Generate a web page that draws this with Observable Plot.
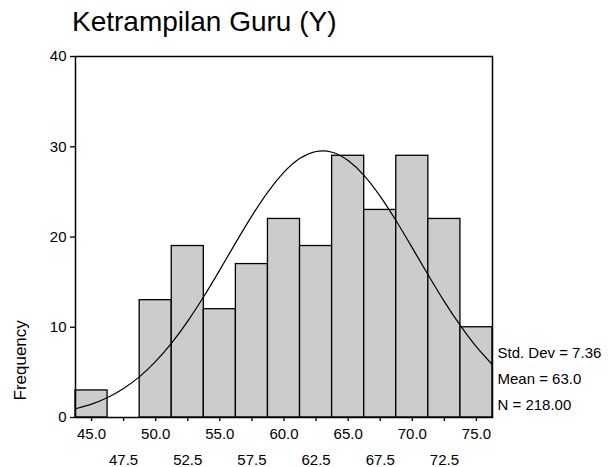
<!DOCTYPE html>
<html>
<head>
<meta charset="utf-8">
<script src="https://cdn.jsdelivr.net/npm/d3@7"></script>
<script src="https://cdn.jsdelivr.net/npm/@observablehq/plot@0.6"></script>
<style>
  html, body { margin: 0; padding: 0; background: white; }
  #wrap { width: 608px; height: 467px; position: relative; background: white; }
  #title { position: relative; height: 45px; font-family: "Liberation Sans", Arial, sans-serif; }
  #title span { position: absolute; left: 72px; top: 6px; font-size: 28px; line-height: 32px; color: #000; white-space: nowrap; }
  svg { display: block; }
</style>
</head>
<body>
<div id="wrap">
  <div id="title"><span></span></div>
  <div id="chart"></div>
</div>
<script>
const titleText = "Ketrampilan Guru (Y)";
const binCenters = [45.0, 47.5, 50.0, 52.5, 55.0, 57.5, 60.0, 62.5, 65.0, 67.5, 70.0, 72.5, 75.0];
const frequencies = [3, 0, 13, 19, 12, 17, 22, 19, 29, 23, 29, 22, 10];
const binWidth = 2.5;
const yTicks = [0, 10, 20, 30, 40];
const xTicksRow1 = [45.0, 50.0, 55.0, 60.0, 65.0, 70.0, 75.0];
const xTicksRow2 = [47.5, 52.5, 57.5, 62.5, 67.5, 72.5];
const statsLines = ["Std. Dev = 7.36", "Mean = 63.0", "N = 218.00"];
const yLabel = "Frequency";
// normal curve
const curveX = [43.75, 45.0, 46.25, 47.5, 48.75, 50.0, 51.25, 52.5, 53.75, 55.0, 56.25, 57.5, 58.75, 60.0, 61.25, 62.5, 63.75, 65.0, 66.25, 67.5, 68.75, 70.0, 71.25, 72.5, 73.75, 75.0, 76.25];
const curveY = [0.97, 1.48, 2.22, 3.22, 4.53, 6.21, 8.26, 10.68, 13.41, 16.36, 19.40, 22.34, 25.00, 27.18, 28.72, 29.47, 29.39, 28.47, 26.80, 24.50, 21.77, 18.79, 15.76, 12.84, 10.17, 7.82, 5.84];

document.querySelector("#title span").textContent = titleText;

const bars = binCenters.map((c, i) => ({x1: c - binWidth / 2, x2: c + binWidth / 2, count: frequencies[i]}))
  .filter(d => d.count > 0);
const curve = curveX.map((x, i) => ({x, y: curveY[i]}));
const allTicks = [...xTicksRow1, ...xTicksRow2];
const fmt = d => d.toFixed(1);

const plot = Plot.plot({
  width: 608,
  height: 422,
  marginLeft: 75,
  marginRight: 116,
  marginTop: 11,
  marginBottom: 50,
  style: {fontFamily: "'Liberation Sans', Arial, sans-serif", fontSize: "15px", color: "black", background: "white", overflow: "visible"},
  x: {domain: [43.75, 76.25]},
  y: {domain: [0, 40]},
  marks: [
    Plot.rectY(bars, {x1: "x1", x2: "x2", y: "count", fill: "url(#hatch)", stroke: "black", strokeWidth: 1.3}),
    Plot.line(curve, {x: "x", y: "y", curve: "natural", stroke: "black", strokeWidth: 1.2}),
    Plot.frame({stroke: "black", strokeWidth: 1.5}),
    Plot.axisY({ticks: yTicks, tickSize: 5, tickPadding: 4, label: null, fontSize: 15, strokeWidth: 1.3}),
    Plot.axisX({ticks: allTicks, tickSize: 4, tickFormat: () => "", label: null, strokeWidth: 1.3}),
    Plot.axisX({ticks: xTicksRow1, tickSize: 0, tickPadding: 11, tickFormat: fmt, label: null, fontSize: 15}),
    Plot.axisX({ticks: xTicksRow2, tickSize: 0, tickPadding: 37, tickFormat: fmt, label: null, fontSize: 15}),
    Plot.text([yLabel], {frameAnchor: "bottom-left", rotate: -90, textAnchor: "start", dx: -50, dy: -17, fontSize: 17}),
    Plot.text([statsLines.join("\n")], {frameAnchor: "bottom-right", textAnchor: "start", lineAnchor: "bottom", dx: 5, dy: -8, lineHeight: 26 / 15, fontSize: 15})
  ]
});

// fine diagonal texture used by SPSS bar fills
const ns = "http://www.w3.org/2000/svg";
const defs = document.createElementNS(ns, "defs");
defs.innerHTML = `<pattern id="hatch" patternUnits="userSpaceOnUse" width="4" height="4">
  <rect width="4" height="4" fill="#cacaca"></rect>
  <path d="M-1,1 l2,-2 M0,4 l4,-4 M3,5 l2,-2" stroke="#d3d3d3" stroke-width="0.8"></path>
</pattern>`;
plot.insertBefore(defs, plot.firstChild);
document.getElementById("chart").appendChild(plot);
</script>
</body>
</html>
